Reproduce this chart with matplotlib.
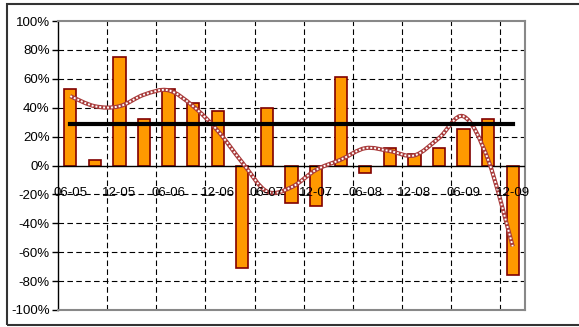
import numpy as np
import matplotlib
matplotlib.use("Agg")
import matplotlib.pyplot as plt
from matplotlib import font_manager
from matplotlib.path import Path
from matplotlib.patches import PathPatch, Rectangle

names = {f.name for f in font_manager.fontManager.ttflist}
narrow = 'Liberation Sans Narrow' in names
plt.rcParams['font.family'] = ['Liberation Sans Narrow' if narrow else 'Liberation Sans', 'DejaVu Sans']
fsize = 11.5 if narrow else 9.5

# quarterly data, 06-05 .. 12-09
quarters = ["06-05", "09-05", "12-05", "03-06", "06-06", "09-06", "12-06", "03-07",
            "06-07", "09-07", "12-07", "03-08", "06-08", "09-08", "12-08", "03-09",
            "06-09", "09-09", "12-09"]
growth = [53, 4, 75, 32, 53, 43, 38, -71, 40, -26, -28, 61, -5, 12, 8, 12, 25, 32, -76]
trend = [48, 41, 41, 49, 52, 41, 24, 2, -18, -15, -3, 4, 12, 10, 7, 19, 34, 4, -56]
average = [29] * len(quarters)
y_ticks = [-100, -80, -60, -40, -20, 0, 20, 40, 60, 80, 100]

x = np.arange(len(quarters))
g = np.array(growth) / 100
t = np.array(trend) / 100
a = np.array(average) / 100

fig = plt.figure(figsize=(5.79, 3.27), dpi=100)
# outer chart frame
fig.patches.append(Rectangle((7 / 579, 2 / 327), 1.0, 321 / 327, transform=fig.transFigure,
                             fill=False, edgecolor='#333333', lw=1.5))
ax = fig.add_axes([58 / 579, 17 / 327, 467 / 579, 289 / 327])

ax.set_xlim(-0.5, len(quarters) - 0.5)
ax.set_ylim(-1, 1)

# grid
dash = (0, (5, 3))
for yv in y_ticks[1:-1]:
    if yv != 0:
        ax.axhline(yv / 100, color='black', lw=0.8, linestyle=dash, zorder=1)
for xv in np.arange(1.5, len(quarters) - 1, 2):
    ax.axvline(xv, color='black', lw=0.8, linestyle=dash, zorder=1)
ax.axhline(0, color='black', lw=1, zorder=3)

ax.bar(x, g, width=0.5, color='#FF9900', edgecolor='#800000', lw=1.2, zorder=2)

# smoothed trend line (bezier through the points)
verts = [(x[0], t[0])]
codes = [Path.MOVETO]
for i in range(len(x) - 1):
    p0 = np.array([x[max(i - 1, 0)], t[max(i - 1, 0)]])
    p1 = np.array([x[i], t[i]])
    p2 = np.array([x[i + 1], t[i + 1]])
    p3 = np.array([x[min(i + 2, len(x) - 1)], t[min(i + 2, len(x) - 1)]])
    c1 = p1 + (p2 - p0) / 6
    c2 = p2 - (p3 - p1) / 6
    verts += [tuple(c1), tuple(c2), tuple(p2)]
    codes += [Path.CURVE4] * 3
path = Path(verts, codes)
ax.add_patch(PathPatch(path, fill=False, edgecolor='#a83a3a', lw=3.0, zorder=4))
ax.add_patch(PathPatch(path, fill=False, edgecolor='white', lw=1.4,
                       linestyle=(0, (1, 1)), zorder=5))

ax.plot(x, a, color='black', lw=3, zorder=6)

# category labels drawn at -20% like the original
for i in range(0, len(quarters), 2):
    ax.text(x[i], -0.19, quarters[i], ha='center', va='center', fontsize=fsize, zorder=7)

ax.set_xticks([])
ax.set_yticks([v / 100 for v in y_ticks])
ax.set_yticklabels([f"{v}%" for v in y_ticks], fontsize=fsize)
ax.tick_params(axis='y', length=4, width=1, pad=2)

for side in ['top', 'right', 'bottom']:
    ax.spines[side].set_color('#888888')
    ax.spines[side].set_linewidth(1.5)
ax.spines['left'].set_color('black')
ax.spines['left'].set_linewidth(1)

fig.savefig("out.png", dpi=100)
